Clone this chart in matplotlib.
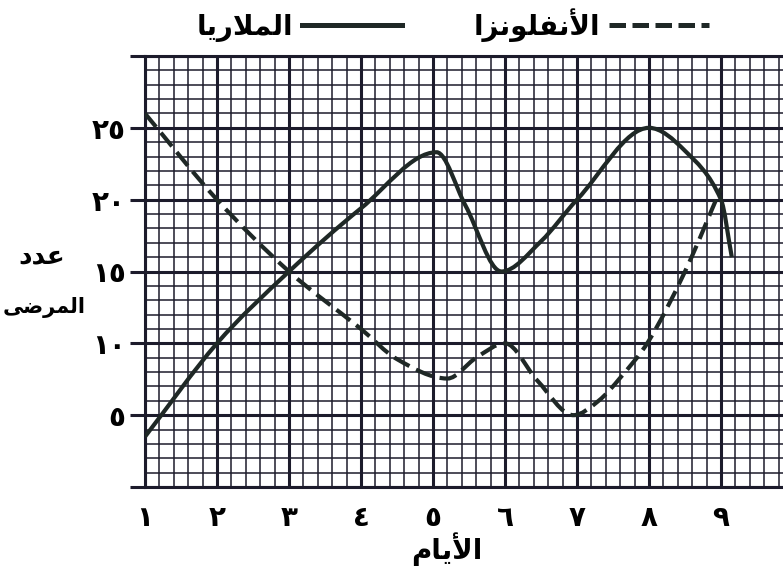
import matplotlib
matplotlib.use("Agg")
import matplotlib.pyplot as plt
from matplotlib.path import Path
from matplotlib.patches import PathPatch
from matplotlib.lines import Line2D
from matplotlib.ticker import MultipleLocator

# =========================
# Data
# =========================
days = [1, 2, 3, 4, 5, 6, 7, 8, 9]
day_labels = ["١", "٢", "٣", "٤", "٥", "٦", "٧", "٨", "٩"]
y_ticks = [0, 5, 10, 15, 20, 25, 30]
y_labels = ["", "٥", "١٠", "١٥", "٢٠", "٢٥", ""]

malaria_x = [1, 2, 3, 4, 5.05, 5.45, 5.95, 6.5, 7, 8, 8.5, 9, 9.15]
malaria_y = [3.5, 10, 15, 19.4, 23.3, 19.6, 15.0, 17.1, 20, 25, 23.4, 20, 16]

flu_x = [1, 2, 3, 4, 4.5, 5.2, 5.6, 6, 6.45, 6.95, 7.3, 7.6, 8, 8.5, 9]
flu_y = [26, 20, 15, 11, 8.9, 7.55, 9.0, 10, 7.4, 5.0, 6.0, 7.6, 10.2, 15, 20.8]

malaria_name = "الملاريا"
flu_name = "الأنفلونزا"
x_title = "الأيام"
y_title = ["عدد", "المرضى"]

# =========================
# Arabic shaping (matplotlib has no text shaping)
# =========================
FORMS = {
    "ا": ("\uFE8D", "\uFE8E", None, None),
    "أ": ("\uFE83", "\uFE84", None, None),
    "ل": ("\uFEDD", "\uFEDE", "\uFEDF", "\uFEE0"),
    "م": ("\uFEE1", "\uFEE2", "\uFEE3", "\uFEE4"),
    "ر": ("\uFEAD", "\uFEAE", None, None),
    "ي": ("\uFEF1", "\uFEF2", "\uFEF3", "\uFEF4"),
    "ن": ("\uFEE5", "\uFEE6", "\uFEE7", "\uFEE8"),
    "ف": ("\uFED1", "\uFED2", "\uFED3", "\uFED4"),
    "و": ("\uFEED", "\uFEEE", None, None),
    "ز": ("\uFEAF", "\uFEB0", None, None),
    "ع": ("\uFEC9", "\uFECA", "\uFECB", "\uFECC"),
    "د": ("\uFEA9", "\uFEAA", None, None),
    "ض": ("\uFEBD", "\uFEBE", "\uFEBF", "\uFEC0"),
    "ى": ("\uFEEF", "\uFEF0", None, None),
    "لا": ("\uFEFB", "\uFEFC", None, None),
    "لأ": ("\uFEF7", "\uFEF8", None, None),
}


def ar(word):
    units = []
    i = 0
    while i < len(word):
        if word[i] == "ل" and i + 1 < len(word) and word[i + 1] in "اأ":
            units.append(word[i:i + 2])
            i += 2
        else:
            units.append(word[i])
            i += 1
    out = []
    for k, u in enumerate(units):
        f = FORMS.get(u)
        if f is None:
            out.append(u)
            continue
        prev = units[k - 1] if k > 0 else None
        nxt = units[k + 1] if k + 1 < len(units) else None
        jp = prev in FORMS and FORMS[prev][2] is not None
        jn = nxt in FORMS and f[2] is not None
        if jp and jn:
            out.append(f[3])
        elif jp:
            out.append(f[1])
        elif jn:
            out.append(f[2])
        else:
            out.append(f[0])
    return "".join(reversed(out))


def smooth_path(xs, ys):
    # cubic Hermite through the read points (flat at local peaks/dips),
    # handed to matplotlib as Bezier segments
    n = len(xs)
    m = []
    for i in range(n):
        if i == 0:
            m.append((ys[1] - ys[0]) / (xs[1] - xs[0]))
        elif i == n - 1:
            m.append((ys[-1] - ys[-2]) / (xs[-1] - xs[-2]))
        elif (ys[i] - ys[i - 1]) * (ys[i + 1] - ys[i]) <= 0:
            m.append(0.0)
        else:
            m.append((ys[i + 1] - ys[i - 1]) / (xs[i + 1] - xs[i - 1]))
    verts = [(xs[0], ys[0])]
    codes = [Path.MOVETO]
    for i in range(n - 1):
        h = xs[i + 1] - xs[i]
        verts += [(xs[i] + h / 3, ys[i] + m[i] * h / 3),
                  (xs[i + 1] - h / 3, ys[i + 1] - m[i + 1] * h / 3),
                  (xs[i + 1], ys[i + 1])]
        codes += [Path.CURVE4] * 3
    return Path(verts, codes)


# =========================
# Figure
# =========================
plt.rcParams["font.family"] = ["DejaVu Sans"]
plt.rcParams["font.weight"] = "bold"

grid_c = "#1c1b2b"
line_c = "#1f2826"

fig = plt.figure(figsize=(7.83, 5.73), dpi=100)
ax = fig.add_axes([145 / 783, 86 / 573, 638 / 783, 431 / 573])
ax.set_xlim(1, 1 + 638 / 72)
ax.set_ylim(0, 30)

ax.xaxis.set_major_locator(MultipleLocator(1))
ax.xaxis.set_minor_locator(MultipleLocator(0.2))
ax.yaxis.set_minor_locator(MultipleLocator(1))
ax.grid(which="major", color=grid_c, linewidth=2.2)
ax.grid(which="minor", color=grid_c, linewidth=1.1)
ax.set_axisbelow(True)

for s in ["left", "bottom", "top"]:
    ax.spines[s].set_color(grid_c)
    ax.spines[s].set_linewidth(2.2)
ax.spines["right"].set_visible(False)

ax.set_xticks(days)
ax.set_xticklabels(day_labels, fontsize=20, fontweight="bold")
ax.set_yticks(y_ticks)
ax.set_yticklabels(y_labels, fontsize=20, fontweight="bold")
ax.tick_params(axis="x", which="both", length=0, pad=12)
ax.tick_params(axis="y", which="major", length=11, width=2.2, color=grid_c, pad=3)
ax.tick_params(axis="y", which="minor", length=0)

# curves
ax.add_patch(PathPatch(smooth_path(malaria_x, malaria_y), fill=False,
                       edgecolor=line_c, linewidth=3.0, capstyle="butt", zorder=3))
ax.add_patch(PathPatch(smooth_path(flu_x, flu_y), fill=False, edgecolor=line_c,
                       linewidth=3.0, linestyle=(0, (4.2, 1.8)), capstyle="butt",
                       zorder=3))

# axis titles
fig.text(447 / 783, 1 - 549 / 573, ar(x_title), ha="center", va="center",
         fontsize=20, fontweight="bold")
fig.text(42 / 783, 1 - 256 / 573, ar(y_title[0]), ha="center", va="center",
         fontsize=19, fontweight="bold")
fig.text(44 / 783, 1 - 308 / 573, ar(y_title[1]), ha="center", va="center",
         fontsize=15, fontweight="bold")

# legend
handles = [Line2D([], [], color=line_c, linewidth=3.6),
           Line2D([], [], color=line_c, linewidth=3.6, linestyle=(0, (3.3, 1.3)))]
fig.legend(handles, [ar(malaria_name), ar(flu_name)], ncol=2, markerfirst=False,
           frameon=False, loc="center", bbox_to_anchor=(453 / 783, 1 - 25 / 573),
           prop={"size": 20, "weight": "bold"}, handlelength=3.6,
           handletextpad=0.3, columnspacing=2.6)

fig.savefig("out.png", dpi=100)
